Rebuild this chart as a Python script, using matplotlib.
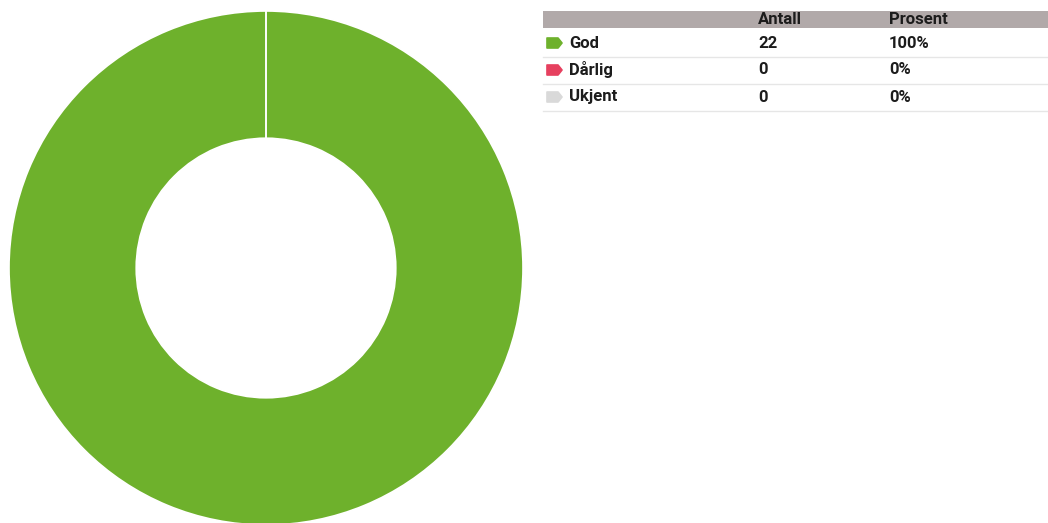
import matplotlib
matplotlib.use("Agg")
import matplotlib.pyplot as plt
from matplotlib.patches import Rectangle, Polygon
from matplotlib.lines import Line2D

categories = ["God", "Dårlig", "Ukjent"]
counts = [22, 0, 0]
percents = ["100%", "0%", "0%"]
colors = ["#6eb12c", "#e6405f", "#d9d9d9"]
headers = ["Antall", "Prosent"]

W, H = 1048, 523
fig = plt.figure(figsize=(W / 100, H / 100), dpi=100)
fig.patch.set_facecolor("white")

def fx(x):
    return x / W

def fy(y):
    return 1 - y / H

# Donut
cx, cy, r = 266, 268, 257
ax = fig.add_axes([fx(cx - r), fy(cy + r), 2 * r / W, 2 * r / H])
ax.pie(counts, colors=colors, startangle=90, counterclock=False,
       radius=1.0,
       wedgeprops=dict(width=0.495, edgecolor="white", linewidth=1.2))
ax.set_xlim(-1, 1)
ax.set_ylim(-1, 1)
ax.set_aspect("equal")
ax.axis("off")

# Table
font = dict(family=["Roboto", "DejaVu Sans"], fontweight="bold", fontsize=12, color="#1c1c1c")
tx0, tx1 = 543, 1048
fig.patches.append(Rectangle((fx(tx0), fy(28)), (tx1 - tx0) / W, 17 / H,
                             transform=fig.transFigure, facecolor="#b1a9a9",
                             edgecolor="none"))
col_x = [758, 889]
for hx, h in zip(col_x, headers):
    fig.text(fx(hx), fy(19.5), h, va="center", ha="left", **font)

row_y0 = 43
row_h = 27
for i, (cat, cnt, pct, c) in enumerate(zip(categories, counts, percents, colors)):
    yc = row_y0 + i * row_h
    # tag marker
    mx0, mx1, mh = 547, 562, 10
    pts = [(mx0, yc - mh / 2), (mx1 - 4, yc - mh / 2), (mx1, yc),
           (mx1 - 4, yc + mh / 2), (mx0, yc + mh / 2)]
    fig.patches.append(Polygon([(fx(a), fy(b)) for a, b in pts], closed=True,
                               transform=fig.transFigure, facecolor=c,
                               edgecolor=c, linewidth=1.2, joinstyle="round"))
    fig.text(fx(569), fy(yc), cat, va="center", ha="left", **font)
    fig.text(fx(col_x[0]), fy(yc), str(cnt), va="center", ha="left", **font)
    fig.text(fx(col_x[1]), fy(yc), pct, va="center", ha="left", **font)
    ly = yc + 14
    fig.lines.append(Line2D([fx(tx0), fx(tx1)], [fy(ly), fy(ly)],
                            transform=fig.transFigure, color="#e6e6e6",
                            linewidth=1.0))

fig.savefig("out.png", dpi=100)
